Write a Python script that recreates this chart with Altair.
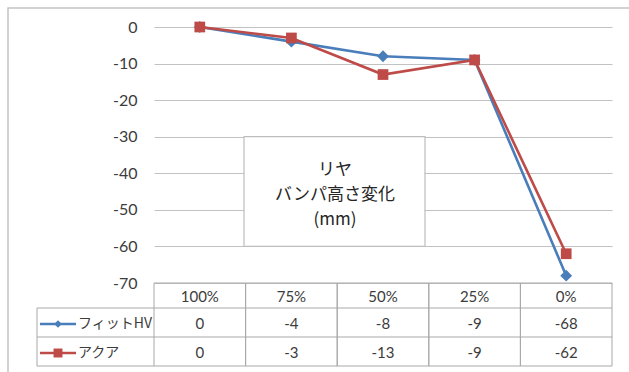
import altair as alt
import pandas as pd

# ---- data -------------------------------------------------------------
categories = ["100%", "75%", "50%", "25%", "0%"]
fit_hv = [0, -4, -8, -9, -68]
aqua = [0, -3, -13, -9, -62]
series_names = ["フィットHV", "アクア"]
series_colors = ["#4a7ebb", "#be4b48"]
series_shapes = ["diamond", "square"]
y_ticks = [0, -10, -20, -30, -40, -50, -60, -70]
box_title = ["リヤ", "バンパ高さ変化", "(mm)"]

# ---- layout -----------------------------------------------------------
W, H = 458, 256            # plot area
HEADER_Y = H + 14          # category label row (centre)
ROW_Y = [H + 41, H + 70]   # data rows (centre)
ROW_LINES = [H + 25, H + 54, H + 83]
TABLE_LEFT = -117
GRID = "#c2c2c2"
BORDER = "#a8a8a8"
TEXT = "#3c3c3c"
JP_FONT = "Noto Sans CJK JP"
NUM_FONT = "Lato"

df = pd.DataFrame({
    "cat": categories * 2,
    "series": [series_names[0]] * len(categories) + [series_names[1]] * len(categories),
    "value": fit_hv + aqua,
})
# table cells show plain hyphen-minus numbers
df["label"] = df["value"].astype(int).astype(str)
cats_df = pd.DataFrame({"cat": categories})
one = pd.DataFrame({"k": [0]})

x_scale = alt.Scale(type="band", domain=categories, paddingInner=0, paddingOuter=0)
y_scale = alt.Scale(domain=[-70, 0], nice=False, zero=False)
y_axis = alt.Axis(
    values=y_ticks, grid=True, gridColor=GRID, gridWidth=1.2,
    domain=False, ticks=False, labelPadding=17, labelFontSize=16,
    labelColor=TEXT, labelFont=NUM_FONT, labelOverlap=False,
    labelExpr="datum.value == 0 ? '0' : '-' + abs(datum.value)",
    title=None,
)


def xcat(**kw):
    return alt.X("cat:N", scale=x_scale, axis=None, **kw)


# outer chart frame
frame = alt.Chart(one).mark_rect(fillOpacity=0, stroke="#c4c4c4", strokeWidth=1.5).encode(
    x=alt.value(-146), x2=alt.value(W + 60), y=alt.value(-19), y2=alt.value(H + 100)
)

# caption box inside the plot
box = alt.Chart(one).mark_rect(fill="white", stroke="#bdbdbd", strokeWidth=1.2).encode(
    x=alt.value(90), x2=alt.value(271),
    y=alt.Y(datum=-30, scale=y_scale, axis=y_axis), y2=alt.datum(-60),
)
box_text = alt.Chart(one).mark_text(
    text=box_title, lineHeight=25, fontSize=17, font=JP_FONT, color="#262626",
    align="center", baseline="middle",
).encode(x=alt.value(181), y=alt.value(143))

# series: line then markers, first series underneath the second
series_layers = []
for i, name in enumerate(series_names):
    sub = alt.Chart(df).transform_filter(alt.datum.series == name)
    series_layers.append(
        sub.mark_line(color=series_colors[i], strokeWidth=2.6).encode(
            x=xcat(), y=alt.Y("value:Q", scale=y_scale, axis=y_axis)
        )
    )
    series_layers.append(
        sub.mark_point(filled=True, opacity=1, shape=series_shapes[i],
                       size=140 if i == 0 else 115, color=series_colors[i]).encode(
            x=xcat(), y=alt.Y("value:Q", scale=y_scale, axis=y_axis)
        )
    )

# ---- data table under the plot ---------------------------------------
table = []
for yy in ROW_LINES:
    table.append(
        alt.Chart(one).mark_rule(color=BORDER, strokeWidth=1).encode(
            x=alt.value(TABLE_LEFT), x2=alt.value(W), y=alt.value(yy)
        )
    )
table.append(
    alt.Chart(one).mark_rule(color=BORDER, strokeWidth=1).encode(
        x=alt.value(0), x2=alt.value(W), y=alt.value(H)
    )
)
table.append(
    alt.Chart(one).mark_rule(color=BORDER, strokeWidth=1).encode(
        x=alt.value(TABLE_LEFT), y=alt.value(ROW_LINES[0]), y2=alt.value(ROW_LINES[-1])
    )
)
for bp in (0, 1):
    table.append(
        alt.Chart(cats_df).mark_rule(color=BORDER, strokeWidth=1).encode(
            x=xcat(bandPosition=bp), y=alt.value(H), y2=alt.value(ROW_LINES[-1])
        )
    )
table.append(
    alt.Chart(cats_df).mark_text(fontSize=15, font=NUM_FONT, color=TEXT, baseline="middle").encode(
        x=xcat(), y=alt.value(HEADER_Y), text="cat:N"
    )
)
for i, name in enumerate(series_names):
    sub = alt.Chart(df).transform_filter(alt.datum.series == name)
    table.append(
        sub.mark_text(fontSize=15, font=NUM_FONT, color=TEXT, baseline="middle").encode(
            x=xcat(), y=alt.value(ROW_Y[i]), text="label:N"
        )
    )
    # legend key: line with marker, then series name
    table.append(
        alt.Chart(one).mark_rule(color=series_colors[i], strokeWidth=2.6).encode(
            x=alt.value(TABLE_LEFT + 3), x2=alt.value(TABLE_LEFT + 39), y=alt.value(ROW_Y[i])
        )
    )
    table.append(
        alt.Chart(one).mark_point(filled=True, opacity=1, shape=series_shapes[i],
                                  size=60 if i == 0 else 80, color=series_colors[i]).encode(
            x=alt.value(TABLE_LEFT + 21), y=alt.value(ROW_Y[i])
        )
    )
    table.append(
        alt.Chart(one).mark_text(text=name, fontSize=14, font=JP_FONT, color=TEXT,
                                 align="left", baseline="middle").encode(
            x=alt.value(TABLE_LEFT + 41), y=alt.value(ROW_Y[i])
        )
    )

chart = alt.layer(
    frame, box, box_text, *series_layers, *table
).properties(
    width=W,
    height=H,
    autosize=alt.AutoSizeParams(type="none"),
    padding={"left": 154, "top": 27, "right": 17, "bottom": 89},
    background="white",
).configure_view(stroke=None)

chart.save("out.html", embed_options={"renderer": "svg", "actions": False})
